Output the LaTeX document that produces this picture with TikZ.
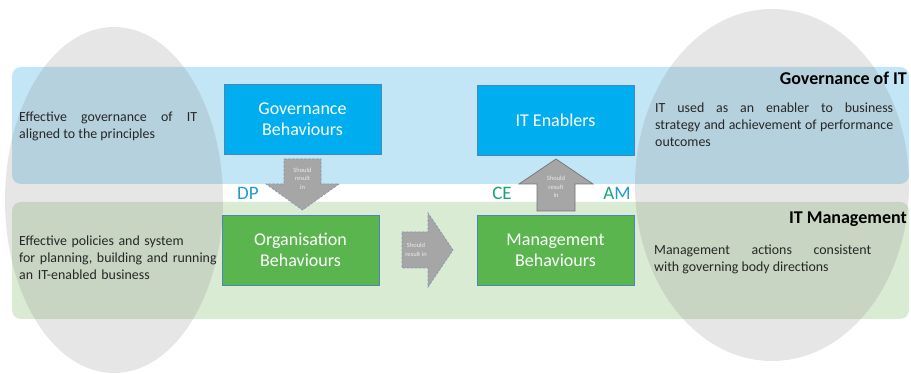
\documentclass[tikz,border=0pt]{standalone}
\usepackage{fontspec}
\setmainfont{Carlito}
\usepackage{tikz}
\definecolor{govband}{HTML}{C3E6F6}
\definecolor{mgtband}{HTML}{D9EBD3}
\definecolor{govfill}{HTML}{00AEEF}
\definecolor{mgtfill}{HTML}{5AB54F}
\definecolor{boxline}{HTML}{4A86BA}
\definecolor{arrowfill}{HTML}{A6A6A6}
\definecolor{arrowline}{HTML}{8497B0}
\definecolor{dpblue}{HTML}{1E9AD6}
\definecolor{cegreen}{HTML}{16A37C}
\definecolor{bodytext}{HTML}{262626}

\begin{document}
\begin{tikzpicture}[x=1pt,y=-1pt,
  behbox/.style={draw=boxline,line width=0.6pt,minimum width=157pt,minimum height=70pt,
    inner sep=0pt,align=center,text=white,font=\fontsize{18}{21}\selectfont},
  bandtext/.style={anchor=north west,inner sep=0pt,text=bodytext,font=\fontsize{13.9}{17}\selectfont},
  bandtitle/.style={anchor=base east,inner sep=0pt,font=\fontsize{18}{21}\selectfont\bfseries},
  hint/.style={inner sep=0pt,align=center,text=white!92!black,font=\fontsize{6.5}{8.5}\selectfont},
  tag/.style={inner sep=0pt,font=\fontsize{19}{22}\selectfont},
  blockarrow/.style={fill=arrowfill,draw=arrowline,line width=0.7pt,dash pattern=on 2.5pt off 1.5pt},
  shade/.style={fill=black!50,fill opacity=0.2}]
\useasboundingbox (0,0) rectangle (911,374);
\fill [govband,rounded corners=9pt] (12,67) rectangle (909,184);
\fill [mgtband,rounded corners=9pt] (12,202) rectangle (909,319);
\fill [shade] (114,200) ellipse [x radius=109,y radius=173];
\fill [shade] (772,185) ellipse [x radius=137,y radius=176];
\node [behbox,fill=govfill] (govbeh) at (302.5,119.5) {Governance\\Behaviours};
\node [behbox,fill=mgtfill] (orgbeh) at (300.5,250) {Organisation\\Behaviours};
\node [behbox,fill=govfill] (itenab) at (555.5,120) {IT Enablers};
\node [behbox,fill=mgtfill] (mgtbeh) at (555.5,250) {Management\\Behaviours};
\draw [blockarrow] (284,159) -- (321,159) -- (321,184) -- (339,184) -- (302.5,210) -- (266,184) -- (284,184) -- cycle;
\node [hint] (dphint) at (302.5,178.5) {Should\\result\\in};
\draw [blockarrow] (402,232) -- (428,232) -- (428,213) -- (453,250) -- (428,287) -- (428,268) -- (402,268) -- cycle;
\node [hint] (orghint) at (416,250) {Should\\result in};
\draw [fill=arrowfill,draw=black!55,line width=0.7pt] (537,211) -- (537,184) -- (519,184) -- (556,159) -- (593,184) -- (575,184) -- (575,211) -- cycle;
\node [hint] (cehint) at (556,187) {Should\\result\\in};
\node [tag,text=dpblue] (dp) at (248,193) {DP};
\node [tag,text=cegreen] (ce) at (502,193) {CE};
\node [tag] (am) at (617,193) {\textcolor{cegreen}{A}\textcolor{dpblue}{M}};
\node [bandtitle] (govtitle) at (907,85) {Governance of IT};
\node [bandtitle] (mgttitle) at (907,224) {IT Management};
\node [bandtext,text width=178pt,align=justify] (govleft) at (19,111.5) {Effective governance of IT\linebreak aligned to the principles};
\node [bandtext,text width=200pt,align=left] (mgtleft) at (19,235.5) {Effective policies and system\\for planning, building and running\\an IT-enabled business};
\node [bandtext,text width=238pt,align=justify] (govright) at (655,102.5) {IT used as an enabler to business\linebreak strategy and achievement of performance\linebreak outcomes};
\node [bandtext,text width=217pt,align=justify] (mgtright) at (654,244.5) {Management actions consistent\linebreak with governing body directions};
\end{tikzpicture}
\end{document}
